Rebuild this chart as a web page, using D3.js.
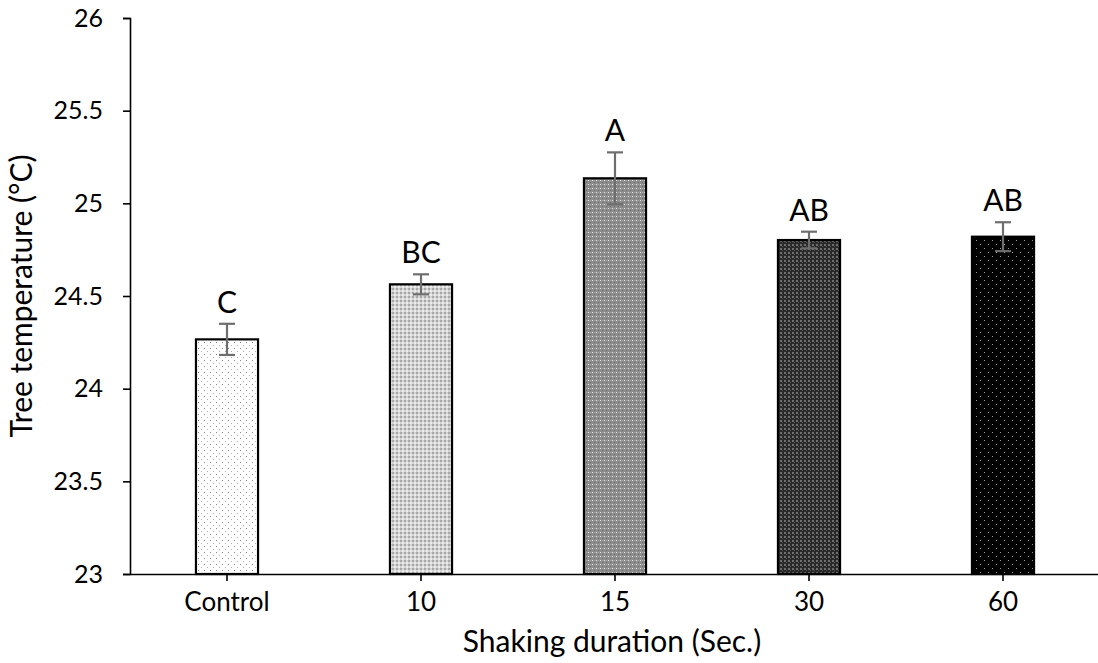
<!DOCTYPE html>
<html><head><meta charset="utf-8">
<script src="https://cdn.jsdelivr.net/npm/d3@7"></script>
<style>body{margin:0;background:#fff}svg{display:block}text{font-family:Lato,"Open Sans",sans-serif;fill:#000}</style>
</head><body><svg id="c" width="1098" height="663"></svg>
<script>
const categories = ["Control","10","15","30","60"];
const values = [24.266, 24.563, 25.135, 24.802, 24.82];
const errors = [0.084, 0.054, 0.14, 0.045, 0.078];
const letters = ["C","BC","A","AB","AB"];
const yTicks = [23, 23.5, 24, 24.5, 25, 25.5, 26];

const svg = d3.select("#c");
const x = d3.scaleBand().domain(categories).range([130, 1100]).paddingInner(0.68).paddingOuter(0.34);
const y = d3.scaleLinear().domain([23, 26]).range([574, 18]);

// patterns
const defs = svg.append("defs");
function pat(id, size, bg, dots) {
  const p = defs.append("pattern").attr("id", id).attr("patternUnits","userSpaceOnUse")
    .attr("width", size).attr("height", size);
  p.append("rect").attr("width", size).attr("height", size).attr("fill", bg);
  dots.forEach(d => p.append("rect").attr("x", d[0]).attr("y", d[1]).attr("width", d[2]||1).attr("height", d[3]||1).attr("fill", d[4]));
}
pat("p0", 6, "#ffffff", [[0,0,1,1,"#8a8a8a"],[3,3,1,1,"#b0b0b0"]]);
pat("p1", 4, "#d4d4d4", [[0,0,2,2,"#a8a8a8"],[2,2,2,2,"#ececec"]]);
pat("p2", 4, "#8c8c8c", [[0,0,1,1,"#e8e8e8"],[2,2,1,1,"#6a6a6a"],[2,0,1,1,"#a8a8a8"]]);
pat("p3", 4, "#2a2a2a", [[0,0,2,2,"#6e6e6e"],[2,2,1,1,"#505050"]]);
pat("p4", 8, "#000000", [[0,0,1,1,"#9a9a9a"],[4,4,1,1,"#bdbdbd"]]);

// bars
svg.selectAll("rect.bar").data(categories).join("rect").attr("class","bar")
  .attr("x", d => x(d)).attr("width", x.bandwidth())
  .attr("y", (d,i) => y(values[i])).attr("height", (d,i) => y(23) - y(values[i]))
  .attr("fill", (d,i) => `url(#p${i})`).attr("stroke", "#000").attr("stroke-width", 2.2);

// error bars
const eg = svg.append("g").attr("stroke", "#6e6e6e").attr("stroke-width", 2.2);
categories.forEach((c,i) => {
  const cx = x(c) + x.bandwidth()/2;
  const t = y(values[i] + errors[i]), b = y(values[i] - errors[i]);
  eg.append("line").attr("x1", cx).attr("x2", cx).attr("y1", t).attr("y2", b);
  eg.append("line").attr("x1", cx-8).attr("x2", cx+8).attr("y1", t).attr("y2", t);
  eg.append("line").attr("x1", cx-8).attr("x2", cx+8).attr("y1", b).attr("y2", b);
  svg.append("text").attr("x", cx).attr("y", t - 11).attr("text-anchor","middle")
    .attr("font-size", 30).text(letters[i]);
});

// axes
const ya = svg.append("g").attr("transform","translate(130,0)")
  .call(d3.axisLeft(y).tickValues(yTicks).tickSize(7).tickPadding(20).tickFormat(d => String(d)));
ya.select(".domain").attr("stroke","#000").attr("stroke-width",1.6);
ya.selectAll(".tick line").attr("stroke","#000").attr("stroke-width",1.6);
ya.selectAll(".tick text").attr("font-size", 25).attr("font-family","Lato, sans-serif");

const xa = svg.append("g").attr("transform","translate(0,574)")
  .call(d3.axisBottom(x).tickSize(7).tickSizeOuter(0).tickPadding(12));
xa.select(".domain").attr("stroke","#000").attr("stroke-width",1.6);
xa.selectAll(".tick line").attr("stroke","#000").attr("stroke-width",1.6);
xa.selectAll(".tick text").attr("font-size", 26).attr("font-family","Lato, sans-serif");

svg.append("text").attr("x", 612).attr("y", 652).attr("text-anchor","middle")
  .attr("font-size", 30).text("Shaking duration (Sec.)");
svg.append("text").attr("transform","translate(32,296) rotate(-90)").attr("text-anchor","middle")
  .attr("font-size", 30).text("Tree temperature (°C)");
</script></body></html>
